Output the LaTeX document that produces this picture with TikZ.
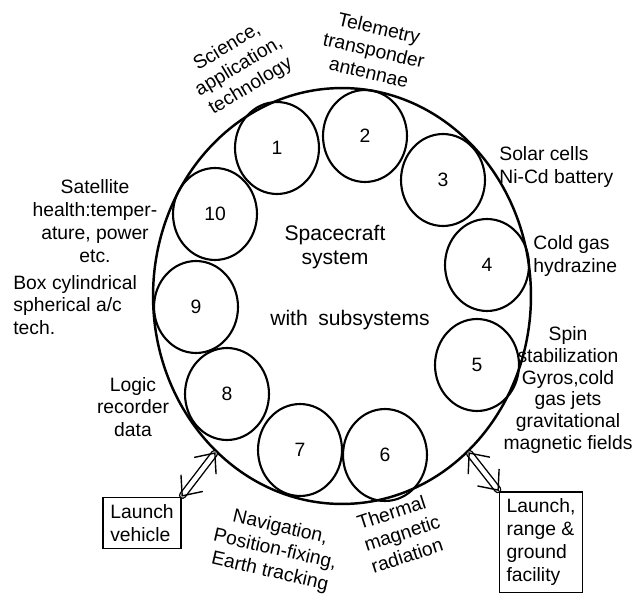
\documentclass[tikz,border=0pt]{standalone}
\usepackage{fontspec}
\setmainfont{Liberation Sans}
\usetikzlibrary{shapes.geometric,arrows.meta}

\begin{document}
\begin{tikzpicture}
	[x=0.02cm,y=-0.02cm,line cap=round,
	%Styles
	hull/.style={draw,ellipse,line width=1.4pt,minimum width=7.56cm,minimum height=8.32cm},
	subsystem/.style={draw,ellipse,line width=1.2pt,inner sep=0pt,
		minimum width=1.68cm,minimum height=1.84cm,font=\fontsize{11}{12}\selectfont},
	info text/.style={align=center,inner sep=0pt,font=\fontsize{11}{13}\selectfont},
	facility box/.style={draw,line width=0.9pt,align=left,inner sep=4pt,font=\fontsize{11}{13}\selectfont},
	link arrow/.style={double,double distance=2.6pt,line width=0.8pt,
		{Straight Barb[length=3.2mm,width=5.5mm]}-{Straight Barb[length=3.2mm,width=5.5mm]}}
	]
	
	\useasboundingbox (0,0) rectangle (635,598);
	
	%The spacecraft and its subsystems
	\node[hull] (hull) at (342,296) {};
	
	\node[subsystem] (s1) at (277,148) {1};
	\node[subsystem] (s2) at (365,136) {2};
	\node[subsystem] (s3) at (443,180) {3};
	\node[subsystem] (s4) at (487,265) {4};
	\node[subsystem] (s5) at (477,365) {5};
	\node[subsystem] (s6) at (385,455) {6};
	\node[subsystem] (s7) at (300,450) {7};
	\node[subsystem] (s8) at (227,394) {8};
	\node[subsystem] (s9) at (196,307) {9};
	\node[subsystem] (s10) at (215,214) {10};
	
	\node[info text,font=\fontsize{12}{14}\selectfont] (title) at (335,247) {Spacecraft\\system};
	\node[info text,font=\fontsize{12}{14}\selectfont] (subtitle) at (350,320) {with\enspace subsystems};
	
	%Labels round the hull
	\node[info text,rotate=31] (science) at (239,67) {Science,\\application,\\technology};
	\node[info text,rotate=-13] (telemetry) at (374,50) {Telemetry\\transponder\\antennae};
	\node[info text,align=left,anchor=west] (power) at (499,167) {Solar cells\\Ni-Cd battery};
	\node[info text,align=left,anchor=west] (propulsion) at (533,256) {Cold gas\\hydrazine};
	\node[info text,font=\fontsize{11}{12.5}\selectfont] (attitude) at (568,390) {Spin\\stabilization\\Gyros,cold\\gas jets\\gravitational\\magnetic fields};
	\node[info text,rotate=18,align=left] (thermal) at (402,533) {Thermal\\magnetic\\radiation};
	\node[info text,rotate=-13] (navigation) at (275,550) {Navigation,\\Position-fixing,\\Earth tracking};
	\node[info text] (logic) at (133,407) {Logic\\recorder\\data};
	\node[info text,align=left,anchor=west] (structure) at (13,305) {Box cylindrical\\spherical a/c\\tech.};
	\node[info text] (health) at (95,221) {Satellite\\health:temper-\\ature, power\\etc.};
	
	%Outside facilities
	\node[facility box] (vehicle) at (142,523) {Launch\\vehicle};
	\node[facility box] (ground) at (541,542) {Launch,\\range \&\\ground\\facility};
	
	\draw[link arrow] (vehicle.north east) -- (hull.231);
	\draw[link arrow] (hull.309) -- (ground.north west);
\end{tikzpicture}
\end{document}
